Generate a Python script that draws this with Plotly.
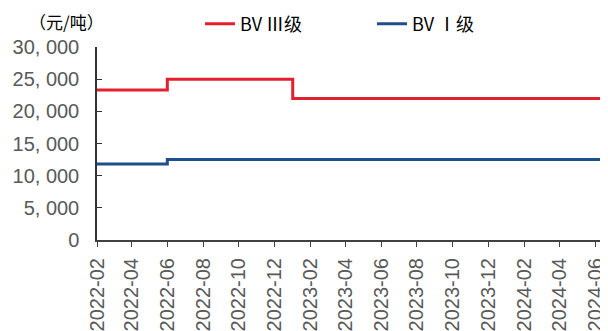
import plotly.graph_objects as go

# change points of the price series (step lines)
bv3_dates = ["2022-02-01", "2022-06-01", "2023-01-01", "2024-07-01"]
bv3_price = [23300, 25000, 22000, 22000]

bv1_dates = ["2022-02-01", "2022-06-01", "2024-07-01"]
bv1_price = [11800, 12500, 12500]

y_ticks = [0, 5000, 10000, 15000, 20000, 25000, 30000]
y_tick_labels = ["0", "5, 000", "10, 000", "15, 000", "20, 000", "25, 000", "30, 000"]

TICK_FONT = dict(family="Liberation Sans, Arial", size=20, color="#595959")
CJK_FONT = "Noto Sans CJK SC"

# the page body has an 8px margin, so the figure is drawn 8px smaller
W, H = 600, 323

fig = go.Figure()
fig.add_trace(go.Scatter(x=bv3_dates, y=bv3_price, name="BV Ⅲ级", mode="lines",
                         line=dict(color="#E5202E", width=3, shape="hv")))
fig.add_trace(go.Scatter(x=bv1_dates, y=bv1_price, name="BV Ⅰ级", mode="lines",
                         line=dict(color="#1F4E8C", width=3, shape="hv")))

fig.update_layout(
    width=W, height=H,
    margin=dict(l=89, r=0, t=39, b=91, autoexpand=False),
    plot_bgcolor="white", paper_bgcolor="white",
    showlegend=True,
    legend=dict(orientation="h", xref="container", yref="container",
                x=192 / W, y=1 - 16 / H, xanchor="left", yanchor="middle",
                entrywidth=127, entrywidthmode="pixels",
                font=dict(family=CJK_FONT, size=18, color="#000000"),
                bgcolor="rgba(0,0,0,0)"),
    annotations=[dict(text="（元/吨）", x=-0.06, y=1.2, xref="paper", yref="paper",
                      xanchor="center", yanchor="top", showarrow=False, borderpad=0,
                      font=dict(family=CJK_FONT, size=17, color="#000000"))],
)

fig.update_xaxes(
    type="date", range=["2022-02-01", "2024-06-22"],
    tick0="2022-02-01", dtick="M2", tickformat="%Y-%m", tickangle=-90,
    ticks="outside", ticklen=5, tickcolor="#404040",
    showline=True, linecolor="#404040", linewidth=2,
    showgrid=False, zeroline=False, tickfont=TICK_FONT,
    automargin=False, ticklabelstandoff=3,
)
fig.update_yaxes(
    range=[0, 30000], tickvals=y_ticks, ticktext=y_tick_labels,
    ticks="inside", ticklen=5, tickcolor="#333333",
    showline=True, linecolor="#333333", linewidth=1.5,
    showgrid=False, zeroline=False, tickfont=TICK_FONT,
    automargin=False, ticklabelstandoff=12,
)

fig.write_html("out.html")
